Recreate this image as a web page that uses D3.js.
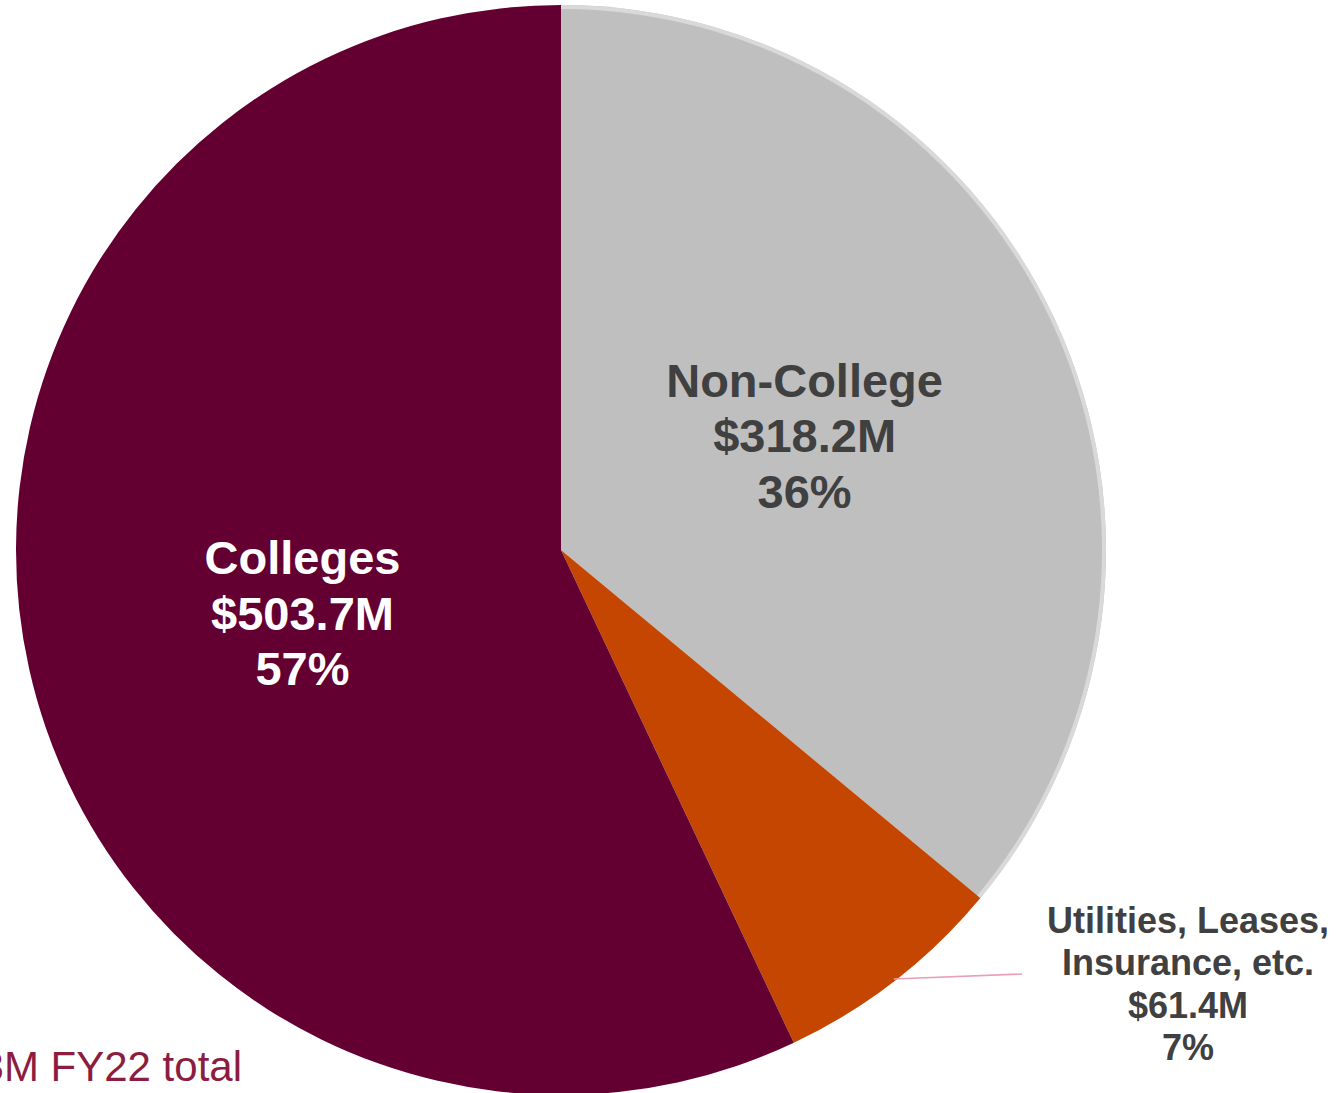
<!DOCTYPE html>
<html>
<head>
<meta charset="utf-8">
<script src="https://cdn.jsdelivr.net/npm/d3@7"></script>
<style>
  html, body { margin: 0; padding: 0; background: #ffffff; }
  svg { display: block; font-family: "Liberation Sans", Arial, sans-serif; }
</style>
</head>
<body>
<svg id="chart" width="1341" height="1093"></svg>
<script>
// FY22 budget split, in $ millions
const categories = ["Non-College", "Utilities, Leases, Insurance, etc.", "Colleges"];
const values = [318.2, 61.4, 503.7];
const percents = ["36%", "7%", "57%"];
const amounts = ["$318.2M", "$61.4M", "$503.7M"];
const labelLines = [["Non-College"], ["Utilities, Leases,", "Insurance, etc."], ["Colleges"]];
const colors = ["#bfbfbf", "#c54600", "#630031"];
const textColors = ["#404040", "#404040", "#ffffff"];
const totalLabel = "$883.3M FY22 total";

const svg = d3.select("#chart");
const cx = 561, cy = 550, r = 545;
const g = svg.append("g").attr("transform", `translate(${cx},${cy})`);

const pie = d3.pie().sort(null).value(d => d);
const arcs = pie(values);
const arc = d3.arc().innerRadius(0).outerRadius(r);

g.selectAll("path.slice")
  .data(arcs)
  .join("path")
  .attr("class", "slice")
  .attr("d", arc)
  .attr("fill", (d, i) => colors[i]);

// light rim on the grey slice's outer edge
const rim = d3.arc().innerRadius(r - 4).outerRadius(r);
g.append("path")
  .attr("d", rim(arcs[0]))
  .attr("fill", "#d9d9d9");

// inside labels, nudged slightly from the centroid
const labelArc = d3.arc().innerRadius(268).outerRadius(268);
const nudges = { 0: [1, 0], 2: [3, 5] };
[0, 2].forEach(i => {
  const [x, y] = labelArc.centroid(arcs[i]);
  const [nx, ny] = nudges[i];
  const lines = [...labelLines[i], amounts[i], percents[i]];
  const lh = 55.5;
  const t = g.append("text")
    .attr("text-anchor", "middle")
    .attr("font-weight", "bold")
    .attr("font-size", 47)
    .attr("fill", textColors[i]);
  lines.forEach((s, k) => {
    t.append("tspan")
      .attr("x", x + nx)
      .attr("y", y + ny + (k - (lines.length - 1) / 2) * lh + 16)
      .text(s);
  });
});

// outside label with leader line for the small slice
{
  const i = 1;
  const a = (arcs[i].startAngle + arcs[i].endAngle) / 2;
  const x0 = Math.sin(a) * (r - 2), y0 = -Math.cos(a) * (r - 2);
  const x1 = 1022 - cx, y1 = 974 - cy;
  g.append("line")
    .attr("x1", x0).attr("y1", y0)
    .attr("x2", x1).attr("y2", y1)
    .attr("stroke", "#e8a0b6")
    .attr("stroke-width", 1.6);
  const lines = [...labelLines[i], amounts[i], percents[i]];
  const t = g.append("text")
    .attr("text-anchor", "middle")
    .attr("font-weight", "bold")
    .attr("font-size", 36)
    .attr("fill", textColors[i]);
  lines.forEach((s, k) => {
    t.append("tspan")
      .attr("x", 1188 - cx)
      .attr("y", 933 - cy + k * 42.3)
      .text(s);
  });
}

// total caption, partly running off the left edge
svg.append("text")
  .attr("x", 242)
  .attr("y", 1081)
  .attr("text-anchor", "end")
  .attr("font-size", 42)
  .attr("fill", "#8c1d40")
  .text(totalLabel);
</script>
</body>
</html>
